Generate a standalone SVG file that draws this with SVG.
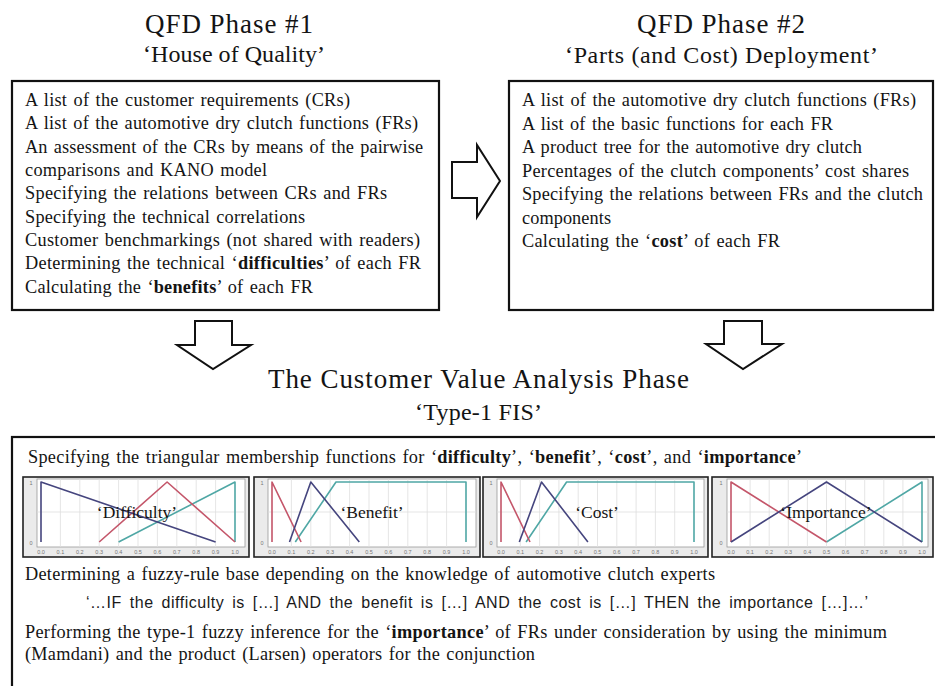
<svg xmlns="http://www.w3.org/2000/svg" width="935" height="686" viewBox="0 0 935 686">
<style>
.t{font-family:"Liberation Serif","Times New Roman",serif;fill:#141414}
.h1{font-size:27px}
.h2{font-size:24px}
.b{font-size:18.3px;word-spacing:1.5px}
.lab{font-size:17.5px;text-anchor:middle}
.sans{font-family:"Liberation Sans",Arial,sans-serif;fill:#1a1a1a;font-size:16px;word-spacing:3px}
.bold{font-weight:bold}
.box{fill:#fff;stroke:#111;stroke-width:2.2}
.arrow{fill:#fff;stroke:#111;stroke-width:2}
.frame{fill:#ebebeb;stroke:#222;stroke-width:1.6}
.plot{fill:#fff;stroke:#9a9a9a;stroke-width:0.8}
.grid{stroke:#dedede;stroke-width:0.8}
.tick{font-family:"Liberation Sans",Arial,sans-serif;font-size:5.5px;fill:#777;text-anchor:middle}
.ml{fill:none;stroke-width:1.6;stroke-linejoin:round}
.nv{stroke:#45457e}
.rd{stroke:#c4566a}
.tl{stroke:#4fa7a5}
</style>
<rect width="935" height="686" fill="#fff"/>

<g id="phase1">
<text class="t h1" x="145" y="33" textLength="168">QFD Phase #1</text>
<text class="t h2" x="143" y="62" textLength="182">‘House of Quality’</text>
<rect class="box" x="12" y="81" width="427" height="229"/>
<text class="t b" x="25" y="106" textLength="325">A list of the customer requirements (CRs)</text>
<text class="t b" x="25" y="129.3" textLength="393">A list of the automotive dry clutch functions (FRs)</text>
<text class="t b" x="25" y="152.7" textLength="398">An assessment of the CRs by means of the pairwise</text>
<text class="t b" x="25" y="176" textLength="242">comparisons and KANO model</text>
<text class="t b" x="25" y="199.3" textLength="362">Specifying the relations between CRs and FRs</text>
<text class="t b" x="25" y="222.7" textLength="280">Specifying the technical correlations</text>
<text class="t b" x="25" y="246" textLength="395">Customer benchmarkings (not shared with readers)</text>
<text class="t b" x="25" y="269.3" textLength="396">Determining the technical ‘<tspan class="bold">difficulties</tspan>’ of each FR</text>
<text class="t b" x="25" y="292.7" textLength="288">Calculating the ‘<tspan class="bold">benefits</tspan>’ of each FR</text>
</g>

<g id="phase2">
<text class="t h1" x="637" y="33" textLength="168">QFD Phase #2</text>
<text class="t h2" x="565" y="63" textLength="313">‘Parts (and Cost) Deployment’</text>
<rect class="box" x="509" y="81" width="424" height="229"/>
<text class="t b" x="522" y="106" textLength="394">A list of the automotive dry clutch functions (FRs)</text>
<text class="t b" x="522" y="129.5" textLength="311">A list of the basic functions for each FR</text>
<text class="t b" x="522" y="153" textLength="340">A product tree for the automotive dry clutch</text>
<text class="t b" x="522" y="176.5" textLength="387">Percentages of the clutch components’ cost shares</text>
<text class="t b" x="522" y="200" textLength="401">Specifying the relations between FRs and the clutch</text>
<text class="t b" x="522" y="223.5" textLength="89">components</text>
<text class="t b" x="522" y="247" textLength="258">Calculating the ‘<tspan class="bold">cost</tspan>’ of each FR</text>
</g>

<g id="connectors">
<polygon class="arrow" points="452,162 477,162 477,145 500,181 477,217 477,198 452,198"/>
<polygon class="arrow" points="195,321 232,321 232,345 251,345 213,369 177,345 195,345"/>
<polygon class="arrow" points="724,321 762,321 762,344 782,344 743,369 706,344 724,344"/>
</g>

<g id="cva">
<text class="t h1" x="268" y="388" textLength="421">The Customer Value Analysis Phase</text>
<text class="t h2" x="415" y="420" textLength="127">‘Type-1  FIS’</text>
<rect class="box" x="12" y="437" width="940" height="270"/>
<text class="t b" x="28" y="463" textLength="774">Specifying the triangular membership functions for ‘<tspan class="bold">difficulty</tspan>’, ‘<tspan class="bold">benefit</tspan>’, ‘<tspan class="bold">cost</tspan>’, and ‘<tspan class="bold">importance</tspan>’</text>

<g id="chart-difficulty">
<rect class="frame" x="23" y="477" width="226" height="80"/>
<rect class="plot" x="37" y="479" width="208" height="68"/>
<g class="grid">
<line x1="60.4" y1="479" x2="60.4" y2="547"/><line x1="79.8" y1="479" x2="79.8" y2="547"/><line x1="99.2" y1="479" x2="99.2" y2="547"/><line x1="118.6" y1="479" x2="118.6" y2="547"/><line x1="138" y1="479" x2="138" y2="547"/><line x1="157.4" y1="479" x2="157.4" y2="547"/><line x1="176.8" y1="479" x2="176.8" y2="547"/><line x1="196.2" y1="479" x2="196.2" y2="547"/><line x1="215.6" y1="479" x2="215.6" y2="547"/><line x1="37" y1="512" x2="245" y2="512"/>
</g>
<text class="tick" x="31" y="485">1</text><text class="tick" x="31" y="545">0</text>
<text class="tick" x="41" y="554">0.0</text><text class="tick" x="60.4" y="554">0.1</text><text class="tick" x="79.8" y="554">0.2</text><text class="tick" x="99.2" y="554">0.3</text><text class="tick" x="118.6" y="554">0.4</text><text class="tick" x="138" y="554">0.5</text><text class="tick" x="157.4" y="554">0.6</text><text class="tick" x="176.8" y="554">0.7</text><text class="tick" x="196.2" y="554">0.8</text><text class="tick" x="215.6" y="554">0.9</text><text class="tick" x="235" y="554">1.0</text>
<polyline class="ml tl" points="118.6,542 235,482 235,542"/>
<polyline class="ml rd" points="99.2,542 167.1,482 235,542"/>
<polyline class="ml nv" points="41,542 41,482 215.6,542"/>
<text class="t lab" x="137" y="518">‘Difficulty’</text>
</g>

<g id="chart-benefit">
<rect class="frame" x="254" y="477" width="226" height="80"/>
<rect class="plot" x="268" y="479" width="208" height="68"/>
<g class="grid">
<line x1="291.4" y1="479" x2="291.4" y2="547"/><line x1="310.8" y1="479" x2="310.8" y2="547"/><line x1="330.2" y1="479" x2="330.2" y2="547"/><line x1="349.6" y1="479" x2="349.6" y2="547"/><line x1="369" y1="479" x2="369" y2="547"/><line x1="388.4" y1="479" x2="388.4" y2="547"/><line x1="407.8" y1="479" x2="407.8" y2="547"/><line x1="427.2" y1="479" x2="427.2" y2="547"/><line x1="446.6" y1="479" x2="446.6" y2="547"/><line x1="268" y1="512" x2="476" y2="512"/>
</g>
<text class="tick" x="262" y="485">1</text><text class="tick" x="262" y="545">0</text>
<text class="tick" x="272" y="554">0.0</text><text class="tick" x="291.4" y="554">0.1</text><text class="tick" x="310.8" y="554">0.2</text><text class="tick" x="330.2" y="554">0.3</text><text class="tick" x="349.6" y="554">0.4</text><text class="tick" x="369" y="554">0.5</text><text class="tick" x="388.4" y="554">0.6</text><text class="tick" x="407.8" y="554">0.7</text><text class="tick" x="427.2" y="554">0.8</text><text class="tick" x="446.6" y="554">0.9</text><text class="tick" x="466" y="554">1.0</text>
<polyline class="ml tl" points="295.3,542 336,482 466,482 466,542"/>
<polyline class="ml rd" points="272,542 272,482 301.1,542"/>
<polyline class="ml nv" points="289.5,542 310.8,482 359.3,542"/>
<text class="t lab" x="372" y="518">‘Benefit’</text>
</g>

<g id="chart-cost">
<rect class="frame" x="483" y="477" width="225" height="80"/>
<rect class="plot" x="497" y="479" width="207" height="68"/>
<g class="grid">
<line x1="520.3" y1="479" x2="520.3" y2="547"/><line x1="539.6" y1="479" x2="539.6" y2="547"/><line x1="558.9" y1="479" x2="558.9" y2="547"/><line x1="578.2" y1="479" x2="578.2" y2="547"/><line x1="597.5" y1="479" x2="597.5" y2="547"/><line x1="616.8" y1="479" x2="616.8" y2="547"/><line x1="636.1" y1="479" x2="636.1" y2="547"/><line x1="655.4" y1="479" x2="655.4" y2="547"/><line x1="674.7" y1="479" x2="674.7" y2="547"/><line x1="497" y1="512" x2="704" y2="512"/>
</g>
<text class="tick" x="491" y="485">1</text><text class="tick" x="491" y="545">0</text>
<text class="tick" x="501" y="554">0.0</text><text class="tick" x="520.3" y="554">0.1</text><text class="tick" x="539.6" y="554">0.2</text><text class="tick" x="558.9" y="554">0.3</text><text class="tick" x="578.2" y="554">0.4</text><text class="tick" x="597.5" y="554">0.5</text><text class="tick" x="616.8" y="554">0.6</text><text class="tick" x="636.1" y="554">0.7</text><text class="tick" x="655.4" y="554">0.8</text><text class="tick" x="674.7" y="554">0.9</text><text class="tick" x="694" y="554">1.0</text>
<polyline class="ml tl" points="526.1,542 566.6,482 694,482 694,542"/>
<polyline class="ml rd" points="501,542 501,482 530,542"/>
<polyline class="ml nv" points="519.3,542 541.5,482 587.9,542"/>
<text class="t lab" x="597" y="518">‘Cost’</text>
</g>

<g id="chart-importance">
<rect class="frame" x="712" y="477" width="221" height="80"/>
<rect class="plot" x="727" y="479" width="201" height="68"/>
<g class="grid">
<line x1="750.1" y1="479" x2="750.1" y2="547"/><line x1="769.2" y1="479" x2="769.2" y2="547"/><line x1="788.3" y1="479" x2="788.3" y2="547"/><line x1="807.4" y1="479" x2="807.4" y2="547"/><line x1="826.5" y1="479" x2="826.5" y2="547"/><line x1="845.6" y1="479" x2="845.6" y2="547"/><line x1="864.7" y1="479" x2="864.7" y2="547"/><line x1="883.8" y1="479" x2="883.8" y2="547"/><line x1="902.9" y1="479" x2="902.9" y2="547"/><line x1="727" y1="512" x2="928" y2="512"/>
</g>
<text class="tick" x="721" y="485">1</text><text class="tick" x="721" y="545">0</text>
<text class="tick" x="731" y="554">0.0</text><text class="tick" x="750.1" y="554">0.1</text><text class="tick" x="769.2" y="554">0.2</text><text class="tick" x="788.3" y="554">0.3</text><text class="tick" x="807.4" y="554">0.4</text><text class="tick" x="826.5" y="554">0.5</text><text class="tick" x="845.6" y="554">0.6</text><text class="tick" x="864.7" y="554">0.7</text><text class="tick" x="883.8" y="554">0.8</text><text class="tick" x="902.9" y="554">0.9</text><text class="tick" x="922" y="554">1.0</text>
<polyline class="ml tl" points="826.5,542 922,482 922,542"/>
<polyline class="ml rd" points="731,542 731,482 826.5,542"/>
<polyline class="ml nv" points="731,542 826.5,482 922,542"/>
<text class="t lab" x="826" y="518">‘Importance’</text>
</g>

<text class="t b" x="25" y="580" textLength="690">Determining a fuzzy-rule base depending on the knowledge of automotive clutch experts</text>
<text class="sans" x="86" y="608" textLength="782">‘…IF the difficulty is […] AND the benefit is […] AND the cost is […] THEN the importance […]…’</text>
<text class="t b" x="25" y="638" textLength="862">Performing the type-1 fuzzy inference for the ‘<tspan class="bold">importance</tspan>’ of FRs under consideration by using the minimum</text>
<text class="t b" x="25" y="660" textLength="510">(Mamdani) and the product (Larsen) operators for the conjunction</text>
</g>
</svg>
